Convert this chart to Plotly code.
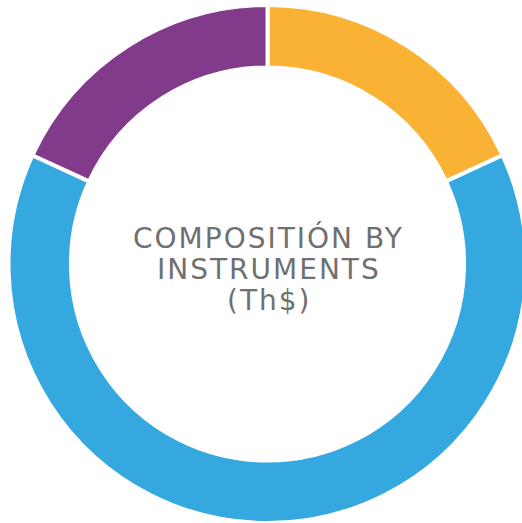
import plotly.graph_objects as go

labels = ["Orange", "Blue", "Purple"]
values = [18.1, 63.8, 18.1]
colors = ["#F9B233", "#35A8E0", "#823A8B"]
title_lines = ["COMPOSITIÓN BY", "INSTRUMENTS", "(Th$)"]

W, H = 530, 523
fig = go.Figure(go.Pie(
    labels=labels, values=values, sort=False, direction="clockwise", rotation=0,
    hole=0.759, textinfo="none", hoverinfo="label+value+percent",
    marker=dict(colors=colors, line=dict(color="white", width=4)),
    domain=dict(x=[8.5 / W, 526.5 / W], y=[0, 518 / H]),
))
line_y = [238, 269, 300]
fig.update_layout(
    width=W, height=H, margin=dict(l=0, r=0, t=0, b=0),
    showlegend=False, paper_bgcolor="white",
    annotations=[dict(text=t, x=269 / W, y=(H - yy) / H, xref="paper", yref="paper",
                      xanchor="center", yanchor="middle", showarrow=False,
                      font=dict(family="DejaVu Sans", size=28, color="#707070"))
                 for t, yy in zip(title_lines, line_y)],
)
post = """
document.body.style.margin='0';
document.body.style.overflow='hidden';
document.documentElement.style.overflow='hidden';
document.querySelectorAll('.annotation-text').forEach(function(e){e.style.letterSpacing='2px';});
"""
fig.write_html("out.html", post_script=post, config={"displayModeBar": False})
